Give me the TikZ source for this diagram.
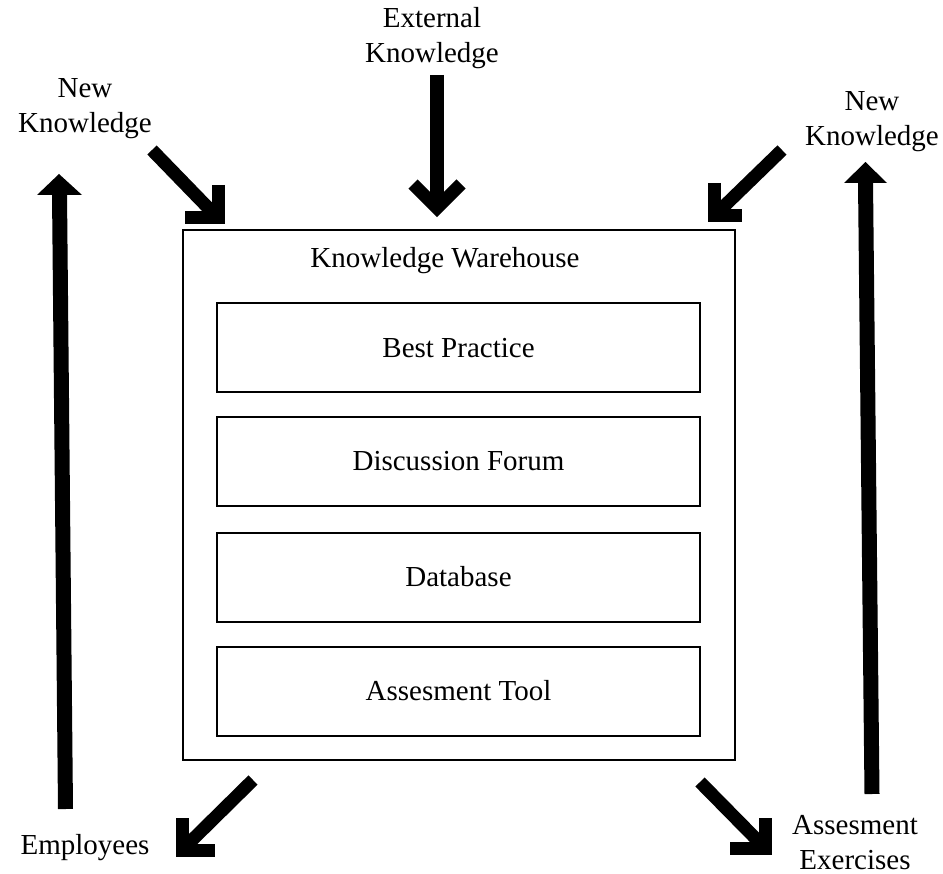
\documentclass[tikz,border=0pt]{standalone}
\usepackage{fontspec}
\setmainfont{Liberation Serif}
\usetikzlibrary{calc}
\begin{document}
\begin{tikzpicture}[x=1pt,y=-1pt,
  lbl/.style={font=\fontsize{29}{35}\selectfont, align=center, inner sep=0pt},
  frame/.style={draw=black, line width=2pt},
  layer/.style={frame, minimum width=483pt, minimum height=89pt, inner sep=0pt,
    font=\fontsize{29}{35}\selectfont},
  fatline/.style={line width=13pt, line join=miter, line cap=butt},
  uptip/.style={fill=black}]
\useasboundingbox (0,0) rectangle (943,874);
\fill[white] (0,0) rectangle (943,874);

% warehouse frame and its layers
\node[frame, minimum width=552pt, minimum height=530pt, inner sep=0pt] (wh) at (459,495) {};
\node[lbl] (title) at (445,261) {Knowledge Warehouse};
\node[layer] (bp) at (458.5,348) {Best Practice};
\node[layer] (df) at (458.5,461.5) {Discussion Forum};
\node[layer] (db) at (458.5,577) {Database};
\node[layer] (at) at (458.5,691) {Assesment Tool};

% labels around the frame
\node[lbl] (ext) at (432,38) {External\\Knowledge};
\node[lbl] (nkl) at (85,109) {New\\Knowledge};
\node[lbl] (nkr) at (872,122) {New\\Knowledge};
\node[lbl] (emp) at (85,848) {Employees};
\node[lbl] (ass) at (855,843) {Assesment\\Exercises};

% external knowledge flowing down
\coordinate (extA) at (437,75);
\coordinate (extT) at (437,208);
\draw[line width=14pt] (extA) -- ($(extT)+(0,-4)$);
\draw[fatline] (413,184) -- (extT) -- (461,184);

% new knowledge, left, into the frame
\coordinate (nlA) at (152,150);
\coordinate (nlT) at (218,218);
\draw[line width=13pt] (nlA) -- (nlT);
\draw[fatline] (218,185) -- (nlT) -- (185,218);

% new knowledge, right, into the frame
\coordinate (nrA) at (782,150);
\coordinate (nrT) at (714,216);
\draw[line width=13pt] (nrA) -- (nrT);
\draw[fatline] (714,183) -- (nrT) -- (742,216);

% out to employees
\coordinate (emA) at (253,780);
\coordinate (emT) at (182,850);
\draw[line width=13pt] (emA) -- (emT);
\draw[fatline] (182,818) -- (emT) -- (215,850);

% out to assessment exercises
\coordinate (asA) at (700,782);
\coordinate (asT) at (765,848);
\draw[line width=13pt] (asA) -- (asT);
\draw[fatline] (765,818) -- (asT) -- (730,848);

% rising arrows at both sides
\coordinate (luB) at (65.5,809);
\coordinate (luT) at (59.5,193);
\draw[line width=15pt] (luB) -- (luT);
\fill[uptip] (37,195) -- (59,174) -- (82,195) -- cycle;

\coordinate (ruB) at (872,794);
\coordinate (ruT) at (865.5,181);
\draw[line width=15pt] (ruB) -- (ruT);
\fill[uptip] (844,183) -- (865.5,162) -- (887,183) -- cycle;
\end{tikzpicture}
\end{document}
